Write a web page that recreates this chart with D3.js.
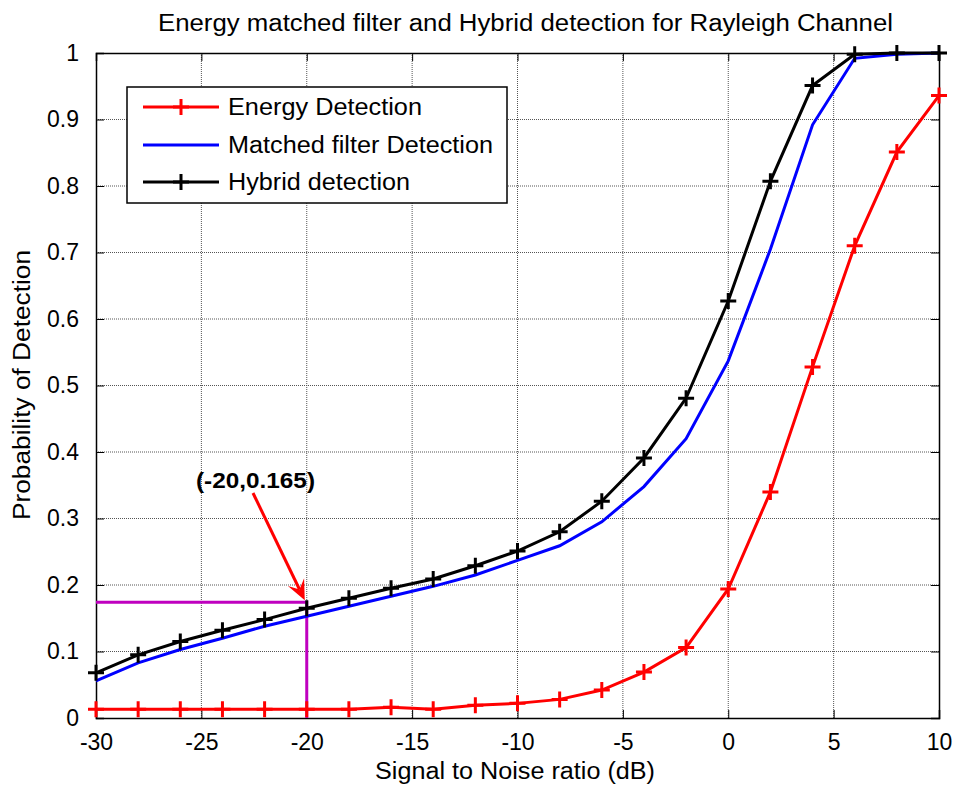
<!DOCTYPE html>
<html><head><meta charset="utf-8">
<script src="https://cdn.jsdelivr.net/npm/d3@7"></script>
<style>body{margin:0;background:#fff}svg{display:block}text{font-family:"Liberation Sans",Arial,sans-serif}</style>
</head><body><svg id="c" width="957" height="787"></svg>
<script>
const snr = [-30,-28,-26,-24,-22,-20,-18,-16,-14,-12,-10,-8,-6,-4,-2,0,2,4,6,8,10];
const energy = [0.013,0.013,0.013,0.013,0.013,0.013,0.013,0.016,0.013,0.019,0.022,0.028,0.042,0.069,0.106,0.194,0.340,0.528,0.710,0.851,0.936];
const matched = [0.056,0.083,0.103,0.120,0.138,0.153,0.168,0.183,0.198,0.215,0.237,0.259,0.295,0.348,0.420,0.537,0.705,0.892,0.992,0.998,1.000];
const hybrid = [0.068,0.095,0.115,0.132,0.148,0.165,0.180,0.195,0.209,0.229,0.251,0.280,0.326,0.391,0.481,0.627,0.807,0.951,0.998,1.000,1.000];
const xTicks = [-30,-25,-20,-15,-10,-5,0,5,10];
const yTicks = [0,0.1,0.2,0.3,0.4,0.5,0.6,0.7,0.8,0.9,1];
const annot = {x:-20, y:0.165, guideY:0.174, label:"(-20,0.165)"};
const seriesNames = ["Energy Detection","Matched filter Detection","Hybrid detection"];

const L=96,R=939,T=53,B=718;
const svg=d3.select("#c");
const x=d3.scaleLinear().domain([-30,10]).range([L,R]);
const y=d3.scaleLinear().domain([0,1]).range([B,T]);

// grid
const g=svg.append("g");
g.selectAll(".gx").data(xTicks.slice(1,-1)).enter().append("line")
 .attr("x1",d=>x(d)).attr("x2",d=>x(d)).attr("y1",T).attr("y2",B)
 .attr("stroke","#555").attr("stroke-width",1).attr("stroke-dasharray","1,1");
g.selectAll(".gy").data(yTicks.slice(1,-1)).enter().append("line")
 .attr("y1",d=>y(d)).attr("y2",d=>y(d)).attr("x1",L).attr("x2",R)
 .attr("stroke","#555").attr("stroke-width",1).attr("stroke-dasharray","1,1");

// axes
const ax=svg.append("g").attr("transform",`translate(0,${B})`)
 .call(d3.axisBottom(x).tickValues(xTicks).tickSize(-8).tickPadding(16).tickFormat(d=>String(d)));
const axT=svg.append("g").attr("transform",`translate(0,${T})`)
 .call(d3.axisTop(x).tickValues(xTicks).tickSize(-8).tickFormat(""));
const ay=svg.append("g").attr("transform",`translate(${L},0)`)
 .call(d3.axisLeft(y).tickValues(yTicks).tickSize(-8).tickPadding(17).tickFormat(d=>String(+d.toFixed(1))));
const ayR=svg.append("g").attr("transform",`translate(${R},0)`)
 .call(d3.axisRight(y).tickValues(yTicks).tickSize(-8).tickFormat(""));
[ax,axT,ay,ayR].forEach(a=>{a.select(".domain").attr("stroke","#000").attr("stroke-width",1.5);
 a.selectAll(".tick line").attr("stroke","#000").attr("stroke-width",1);
 a.selectAll("text").attr("font-size",23).attr("fill","#000").attr("font-family","Liberation Sans, Arial, sans-serif");});

// annotation guides
svg.append("path").attr("d",`M${x(-30)},${y(annot.guideY)}H${x(annot.x)}V${y(0)}`)
 .attr("fill","none").attr("stroke","#BF00BF").attr("stroke-width",3);

const line=d3.line().x((d,i)=>x(snr[i])).y(d=>y(d));
function plus(sel,data,color){
 sel.selectAll(null).data(data).enter().append("path")
  .attr("d",(d,i)=>`M${x(snr[i])-8},${y(d)}h16M${x(snr[i])},${y(d)-8}v16`)
  .attr("stroke",color).attr("stroke-width",3).attr("fill","none");
}
svg.append("path").datum(matched).attr("d",line).attr("fill","none").attr("stroke","#0000FF").attr("stroke-width",3);
svg.append("path").datum(energy).attr("d",line).attr("fill","none").attr("stroke","#FF0000").attr("stroke-width",3);
plus(svg.append("g"),energy,"#FF0000");
svg.append("path").datum(hybrid).attr("d",line).attr("fill","none").attr("stroke","#000").attr("stroke-width",3);
plus(svg.append("g"),hybrid,"#000");

// arrow
const tipX=x(annot.x)-2, tipY=y(annot.guideY)-2, sx=253, sy=493;
const ang=Math.atan2(tipY-sy,tipX-sx);
svg.append("line").attr("x1",sx).attr("y1",sy).attr("x2",tipX-12*Math.cos(ang)).attr("y2",tipY-12*Math.sin(ang))
 .attr("stroke","#FF0000").attr("stroke-width",3);
const ah=22, aw=0.42;
svg.append("path").attr("d",`M${tipX},${tipY}L${tipX-ah*Math.cos(ang-aw)},${tipY-ah*Math.sin(ang-aw)}L${tipX-ah*0.55*Math.cos(ang)},${tipY-ah*0.55*Math.sin(ang)}L${tipX-ah*Math.cos(ang+aw)},${tipY-ah*Math.sin(ang+aw)}Z`)
 .attr("fill","#FF0000");
svg.append("text").attr("x",196).attr("y",488).attr("font-size",22).attr("font-weight","bold")
 .attr("textLength",119).attr("lengthAdjust","spacingAndGlyphs").text(annot.label);

// legend
const lg=svg.append("g");
lg.append("rect").attr("x",127).attr("y",87).attr("width",380).attr("height",116).attr("fill","#fff").attr("stroke","#000").attr("stroke-width",1.5);
const lc=["#FF0000","#0000FF","#000"], lm=[true,false,true], ly=[107,145,182], lw=[194,265,182];
seriesNames.forEach((n,i)=>{
 lg.append("line").attr("x1",143).attr("x2",219).attr("y1",ly[i]).attr("y2",ly[i]).attr("stroke",lc[i]).attr("stroke-width",3);
 if(lm[i]) lg.append("path").attr("d",`M${181-8},${ly[i]}h16M181,${ly[i]-8}v16`).attr("stroke",lc[i]).attr("stroke-width",3);
 lg.append("text").attr("x",228).attr("y",ly[i]+8).attr("font-size",23)
  .attr("textLength",lw[i]).attr("lengthAdjust","spacingAndGlyphs").text(n);
});

// titles
svg.append("text").attr("x",158).attr("y",31).attr("font-size",23)
 .attr("textLength",735).attr("lengthAdjust","spacingAndGlyphs")
 .text("Energy matched filter and Hybrid detection for Rayleigh Channel");
svg.append("text").attr("x",515).attr("y",779).attr("text-anchor","middle").attr("font-size",23)
 .attr("textLength",280).attr("lengthAdjust","spacingAndGlyphs")
 .text("Signal to Noise ratio (dB)");
svg.append("text").attr("transform","translate(30,385) rotate(-90)").attr("text-anchor","middle").attr("font-size",23)
 .attr("textLength",270).attr("lengthAdjust","spacingAndGlyphs")
 .text("Probability of Detection");
</script></body></html>
